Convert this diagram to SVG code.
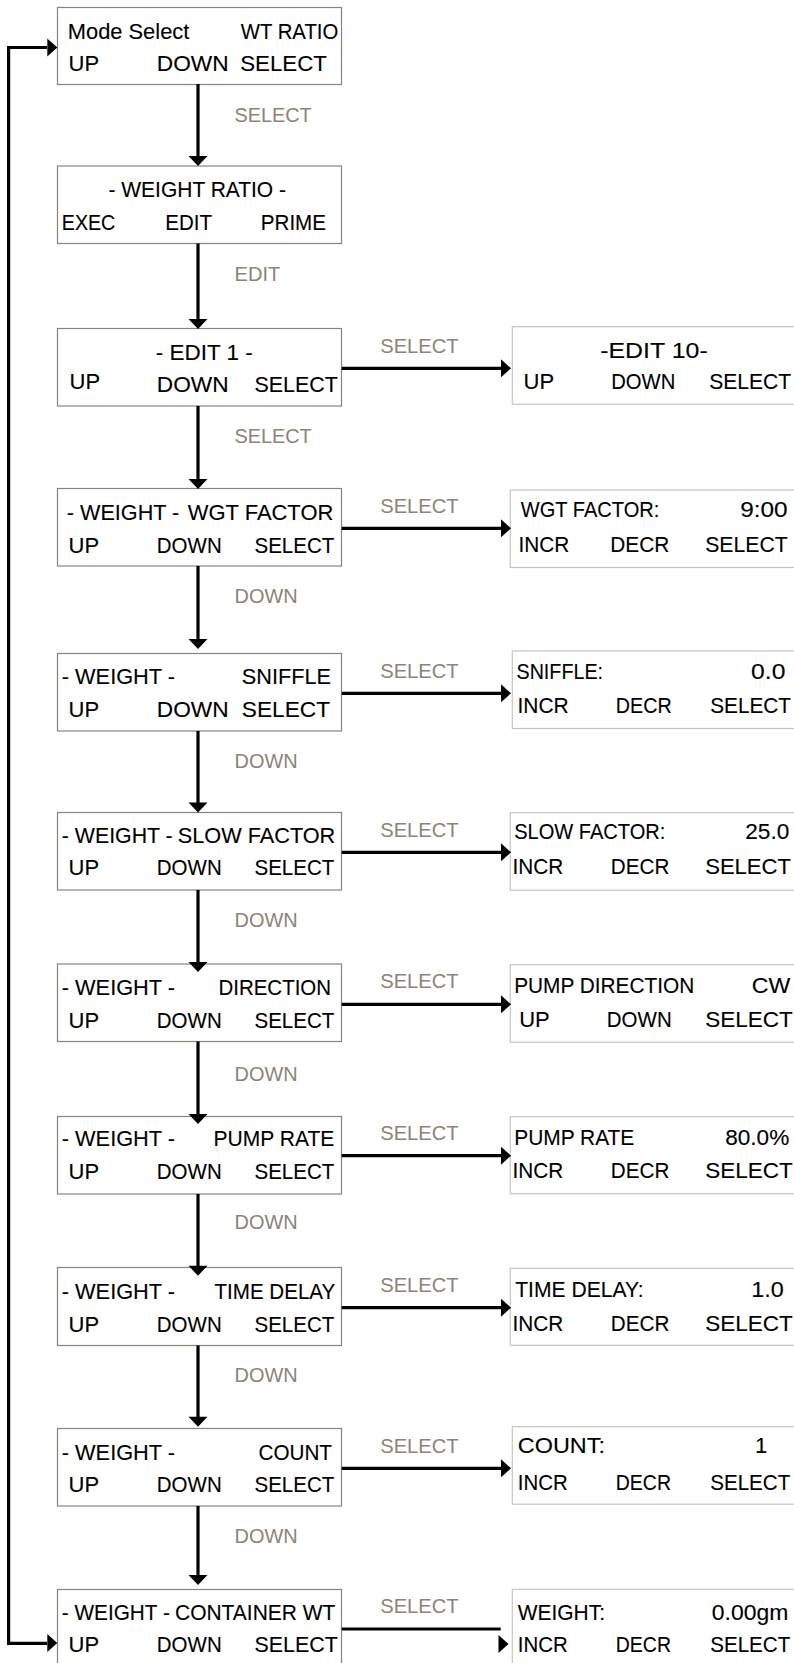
<svg xmlns="http://www.w3.org/2000/svg" xmlns:xlink="http://www.w3.org/1999/xlink" width="794" height="1663" viewBox="0 0 794 1663">
  <style>
    text { font-family: "Liberation Sans", Arial, sans-serif; }
    .t { font-size: 22px; fill: #000; stroke: #000; stroke-width: 0.12; }
    .lbl { font-size: 21px; fill: #8c8478; }
    .box { fill: #fff; stroke: #8b8278; stroke-width: 1.2; }
    .rbox { fill: #fff; stroke: #c8c4bd; stroke-width: 1.2; }
    .wire { fill: none; stroke: #000; stroke-width: 3.2; }
    .head { fill: #000; }
  </style>
  <defs>
    <!-- arrowheads with the tip at the origin -->
    <path id="ahDown" d="M-9.5,-10 L9.5,-10 L0,0 Z"/>
    <path id="ahRight" d="M-10,-9 L-10,9 L0,0 Z"/>
  </defs>

  <rect width="794" height="1663" fill="#fff"/>

  <!-- main menu column -->
  <g id="mode-select">
    <rect class="box" x="57.5" y="7.5" width="284" height="77"/>
    <text class="t" x="67.8" y="38.5" textLength="121.5" lengthAdjust="spacingAndGlyphs">Mode Select</text>
    <text class="t" x="240.8" y="38.5" textLength="97.5" lengthAdjust="spacingAndGlyphs">WT RATIO</text>
    <text class="t" x="68.5" y="71">UP</text>
    <text class="t" x="156.8" y="71" textLength="71.8" lengthAdjust="spacingAndGlyphs">DOWN</text>
    <text class="t" x="240.2" y="71" textLength="86.8" lengthAdjust="spacingAndGlyphs">SELECT</text>
  </g>

  <g id="weight-ratio">
    <rect class="box" x="57.5" y="166" width="284" height="77.5"/>
    <text class="t" x="108.5" y="197" textLength="177.5" lengthAdjust="spacingAndGlyphs">- WEIGHT RATIO -</text>
    <text class="t" x="61.8" y="230" textLength="53.5" lengthAdjust="spacingAndGlyphs">EXEC</text>
    <text class="t" x="165.2" y="230" textLength="46.8" lengthAdjust="spacingAndGlyphs">EDIT</text>
    <text class="t" x="260.8" y="230" textLength="65.2" lengthAdjust="spacingAndGlyphs">PRIME</text>
  </g>

  <g id="edit-1">
    <rect class="box" x="57.5" y="328.5" width="284" height="77.5"/>
    <text class="t" x="155.8" y="360" textLength="96.9" lengthAdjust="spacingAndGlyphs">- EDIT 1 -</text>
    <text class="t" x="69.5" y="388.5">UP</text>
    <text class="t" x="156.8" y="391.5" textLength="71.8" lengthAdjust="spacingAndGlyphs">DOWN</text>
    <text class="t" x="254.5" y="391.5" textLength="83.2" lengthAdjust="spacingAndGlyphs">SELECT</text>
  </g>

  <g id="wgt-factor">
    <rect class="box" x="57.5" y="488.5" width="284" height="77.5"/>
    <text class="t" x="66.8" y="519.5" textLength="112.5" lengthAdjust="spacingAndGlyphs">- WEIGHT -</text>
    <text class="t" x="187.8" y="519.5" textLength="145.5" lengthAdjust="spacingAndGlyphs">WGT FACTOR</text>
    <text class="t" x="68.5" y="552.5">UP</text>
    <text class="t" x="156.8" y="552.5" textLength="64.9" lengthAdjust="spacingAndGlyphs">DOWN</text>
    <text class="t" x="254.5" y="552.5" textLength="79.8" lengthAdjust="spacingAndGlyphs">SELECT</text>
  </g>

  <g id="sniffle">
    <rect class="box" x="57.5" y="653.5" width="284" height="77.5"/>
    <text class="t" x="61.8" y="684" textLength="113.2" lengthAdjust="spacingAndGlyphs">- WEIGHT -</text>
    <text class="t" x="241.8" y="684" textLength="89.2" lengthAdjust="spacingAndGlyphs">SNIFFLE</text>
    <text class="t" x="68.5" y="716.7">UP</text>
    <text class="t" x="156.8" y="716.7" textLength="71.8" lengthAdjust="spacingAndGlyphs">DOWN</text>
    <text class="t" x="241.8" y="716.7" textLength="88.2" lengthAdjust="spacingAndGlyphs">SELECT</text>
  </g>

  <g id="slow-factor">
    <rect class="box" x="57.5" y="812.5" width="284" height="77.5"/>
    <text class="t" x="61.8" y="843.3" textLength="110.9" lengthAdjust="spacingAndGlyphs">- WEIGHT -</text>
    <text class="t" x="177.8" y="843.3" textLength="157.5" lengthAdjust="spacingAndGlyphs">SLOW FACTOR</text>
    <text class="t" x="68.5" y="875">UP</text>
    <text class="t" x="156.8" y="875" textLength="64.9" lengthAdjust="spacingAndGlyphs">DOWN</text>
    <text class="t" x="254.5" y="875" textLength="79.8" lengthAdjust="spacingAndGlyphs">SELECT</text>
  </g>

  <g id="direction">
    <rect class="box" x="57.5" y="964" width="284" height="77.5"/>
    <text class="t" x="61.8" y="995" textLength="113.2" lengthAdjust="spacingAndGlyphs">- WEIGHT -</text>
    <text class="t" x="218.5" y="995" textLength="112.5" lengthAdjust="spacingAndGlyphs">DIRECTION</text>
    <text class="t" x="68.5" y="1027.7">UP</text>
    <text class="t" x="156.8" y="1027.7" textLength="64.9" lengthAdjust="spacingAndGlyphs">DOWN</text>
    <text class="t" x="254.5" y="1027.7" textLength="79.8" lengthAdjust="spacingAndGlyphs">SELECT</text>
  </g>

  <g id="pump-rate">
    <rect class="box" x="57.5" y="1116.5" width="284" height="77.5"/>
    <text class="t" x="61.8" y="1146" textLength="113.2" lengthAdjust="spacingAndGlyphs">- WEIGHT -</text>
    <text class="t" x="213.5" y="1146" textLength="120.8" lengthAdjust="spacingAndGlyphs">PUMP RATE</text>
    <text class="t" x="68.5" y="1179.3">UP</text>
    <text class="t" x="156.8" y="1179.3" textLength="64.9" lengthAdjust="spacingAndGlyphs">DOWN</text>
    <text class="t" x="254.5" y="1179.3" textLength="79.8" lengthAdjust="spacingAndGlyphs">SELECT</text>
  </g>

  <g id="time-delay">
    <rect class="box" x="57.5" y="1267.5" width="284" height="78"/>
    <text class="t" x="61.8" y="1299" textLength="113.2" lengthAdjust="spacingAndGlyphs">- WEIGHT -</text>
    <text class="t" x="214.5" y="1299" textLength="120.8" lengthAdjust="spacingAndGlyphs">TIME DELAY</text>
    <text class="t" x="68.5" y="1331.7">UP</text>
    <text class="t" x="156.8" y="1331.7" textLength="64.9" lengthAdjust="spacingAndGlyphs">DOWN</text>
    <text class="t" x="254.5" y="1331.7" textLength="79.8" lengthAdjust="spacingAndGlyphs">SELECT</text>
  </g>

  <g id="count">
    <rect class="box" x="57.5" y="1428.5" width="284" height="77.5"/>
    <text class="t" x="61.8" y="1460" textLength="113.2" lengthAdjust="spacingAndGlyphs">- WEIGHT -</text>
    <text class="t" x="258.5" y="1460" textLength="73.5" lengthAdjust="spacingAndGlyphs">COUNT</text>
    <text class="t" x="68.5" y="1491.7">UP</text>
    <text class="t" x="156.8" y="1491.7" textLength="64.9" lengthAdjust="spacingAndGlyphs">DOWN</text>
    <text class="t" x="254.5" y="1491.7" textLength="79.8" lengthAdjust="spacingAndGlyphs">SELECT</text>
  </g>

  <g id="container-wt">
    <rect class="box" x="57.5" y="1589.5" width="284" height="78"/>
    <text class="t" x="61.8" y="1620" textLength="108" lengthAdjust="spacingAndGlyphs">- WEIGHT -</text>
    <text class="t" x="175" y="1620" textLength="160.3" lengthAdjust="spacingAndGlyphs">CONTAINER WT</text>
    <text class="t" x="68.5" y="1651.7">UP</text>
    <text class="t" x="156.8" y="1651.7" textLength="64.9" lengthAdjust="spacingAndGlyphs">DOWN</text>
    <text class="t" x="254.5" y="1651.7" textLength="83.2" lengthAdjust="spacingAndGlyphs">SELECT</text>
  </g>

  <!-- setting screens -->
  <g id="edit-10">
    <rect class="rbox" x="512.3" y="326.7" width="290" height="77.5"/>
    <text class="t" x="600.2" y="358.3" textLength="107.5" lengthAdjust="spacingAndGlyphs">-EDIT 10-</text>
    <text class="t" x="523.5" y="389.3">UP</text>
    <text class="t" x="611.2" y="389.3" textLength="64.1" lengthAdjust="spacingAndGlyphs">DOWN</text>
    <text class="t" x="709.2" y="389.3" textLength="81.8" lengthAdjust="spacingAndGlyphs">SELECT</text>
  </g>

  <g id="set-wgt-factor">
    <rect class="rbox" x="510.3" y="490" width="290" height="77.5"/>
    <text class="t" x="520.8" y="516.7" textLength="138.5" lengthAdjust="spacingAndGlyphs">WGT FACTOR:</text>
    <text class="t" x="740.2" y="516.7" textLength="47.5" lengthAdjust="spacingAndGlyphs">9:00</text>
    <text class="t" x="518.5" y="551.7" textLength="50.8" lengthAdjust="spacingAndGlyphs">INCR</text>
    <text class="t" x="610.2" y="551.7" textLength="59.1" lengthAdjust="spacingAndGlyphs">DECR</text>
    <text class="t" x="705.2" y="551.7" textLength="82.5" lengthAdjust="spacingAndGlyphs">SELECT</text>
  </g>

  <g id="set-sniffle">
    <rect class="rbox" x="512.3" y="651" width="290" height="77.5"/>
    <text class="t" x="516.5" y="679" textLength="86.5" lengthAdjust="spacingAndGlyphs">SNIFFLE:</text>
    <text class="t" x="751.1" y="679" textLength="34.3" lengthAdjust="spacingAndGlyphs">0.0</text>
    <text class="t" x="517.5" y="713.3" textLength="51.2" lengthAdjust="spacingAndGlyphs">INCR</text>
    <text class="t" x="615.8" y="713.3" textLength="55.9" lengthAdjust="spacingAndGlyphs">DECR</text>
    <text class="t" x="710.2" y="713.3" textLength="80.8" lengthAdjust="spacingAndGlyphs">SELECT</text>
  </g>

  <g id="set-slow-factor">
    <rect class="rbox" x="510.3" y="812.7" width="290" height="77.5"/>
    <text class="t" x="514.2" y="839.3" textLength="151.1" lengthAdjust="spacingAndGlyphs">SLOW FACTOR:</text>
    <text class="t" x="745.2" y="839.3" textLength="44.1" lengthAdjust="spacingAndGlyphs">25.0</text>
    <text class="t" x="512.5" y="874.3" textLength="50.8" lengthAdjust="spacingAndGlyphs">INCR</text>
    <text class="t" x="610.8" y="874.3" textLength="58.5" lengthAdjust="spacingAndGlyphs">DECR</text>
    <text class="t" x="705.2" y="874.3" textLength="85.8" lengthAdjust="spacingAndGlyphs">SELECT</text>
  </g>

  <g id="set-direction">
    <rect class="rbox" x="510.3" y="964.7" width="290" height="77.5"/>
    <text class="t" x="514.2" y="992.7" textLength="180.1" lengthAdjust="spacingAndGlyphs">PUMP DIRECTION</text>
    <text class="t" x="751.8" y="992.7" textLength="38.5" lengthAdjust="spacingAndGlyphs">CW</text>
    <text class="t" x="519.2" y="1026.7">UP</text>
    <text class="t" x="606.8" y="1026.7" textLength="64.9" lengthAdjust="spacingAndGlyphs">DOWN</text>
    <text class="t" x="705.2" y="1026.7" textLength="87.5" lengthAdjust="spacingAndGlyphs">SELECT</text>
  </g>

  <g id="set-pump-rate">
    <rect class="rbox" x="510.3" y="1116.7" width="290" height="77"/>
    <text class="t" x="514.2" y="1145" textLength="120.1" lengthAdjust="spacingAndGlyphs">PUMP RATE</text>
    <text class="t" x="725.2" y="1145" textLength="64.1" lengthAdjust="spacingAndGlyphs">80.0%</text>
    <text class="t" x="512.5" y="1178.3" textLength="50.8" lengthAdjust="spacingAndGlyphs">INCR</text>
    <text class="t" x="610.8" y="1178.3" textLength="58.5" lengthAdjust="spacingAndGlyphs">DECR</text>
    <text class="t" x="705.2" y="1178.3" textLength="87.5" lengthAdjust="spacingAndGlyphs">SELECT</text>
  </g>

  <g id="set-time-delay">
    <rect class="rbox" x="510.3" y="1268.3" width="290" height="77"/>
    <text class="t" x="515.2" y="1297.3" textLength="128.5" lengthAdjust="spacingAndGlyphs">TIME DELAY:</text>
    <text class="t" x="751.2" y="1297.3" textLength="32.5" lengthAdjust="spacingAndGlyphs">1.0</text>
    <text class="t" x="512.5" y="1330.7" textLength="50.8" lengthAdjust="spacingAndGlyphs">INCR</text>
    <text class="t" x="610.8" y="1330.7" textLength="58.5" lengthAdjust="spacingAndGlyphs">DECR</text>
    <text class="t" x="705.2" y="1330.7" textLength="87.5" lengthAdjust="spacingAndGlyphs">SELECT</text>
  </g>

  <g id="set-count">
    <rect class="rbox" x="512.3" y="1426.7" width="290" height="77.5"/>
    <text class="t" x="517.8" y="1453.3" textLength="87.2" lengthAdjust="spacingAndGlyphs">COUNT:</text>
    <text class="t" x="755" y="1453.3">1</text>
    <text class="t" x="517.8" y="1490" textLength="49.9" lengthAdjust="spacingAndGlyphs">INCR</text>
    <text class="t" x="615.8" y="1490" textLength="55.2" lengthAdjust="spacingAndGlyphs">DECR</text>
    <text class="t" x="710.2" y="1490" textLength="80.1" lengthAdjust="spacingAndGlyphs">SELECT</text>
  </g>

  <g id="set-weight">
    <rect class="rbox" x="512.3" y="1589.3" width="290" height="78"/>
    <text class="t" x="517.8" y="1620" textLength="87.2" lengthAdjust="spacingAndGlyphs">WEIGHT:</text>
    <text class="t" x="711.8" y="1620" textLength="76.5" lengthAdjust="spacingAndGlyphs">0.00gm</text>
    <text class="t" x="517.8" y="1651.7" textLength="49.9" lengthAdjust="spacingAndGlyphs">INCR</text>
    <text class="t" x="615.8" y="1651.7" textLength="55.2" lengthAdjust="spacingAndGlyphs">DECR</text>
    <text class="t" x="710.2" y="1651.7" textLength="80.1" lengthAdjust="spacingAndGlyphs">SELECT</text>
  </g>

  <!-- connectors, drawn over the screens so overlapping arrowheads stay visible -->
  <g id="connectors">
    <!-- return loop from the last menu back to the top -->
    <path class="wire" d="M47,1643.3 H8.6 V47.5 H47"/>
    <use xlink:href="#ahRight" class="head" x="57.3" y="47.5"/>
    <use xlink:href="#ahRight" class="head" x="57.3" y="1643"/>

    <!-- vertical chain -->
    <path class="wire" d="M198,84 V157"/>
    <use xlink:href="#ahDown" class="head" x="198" y="166"/>
    <path class="wire" d="M198,243.5 V320"/>
    <use xlink:href="#ahDown" class="head" x="198" y="329"/>
    <path class="wire" d="M198,406 V480"/>
    <use xlink:href="#ahDown" class="head" x="198" y="489"/>
    <path class="wire" d="M198,566 V640"/>
    <use xlink:href="#ahDown" class="head" x="198" y="649"/>
    <path class="wire" d="M198,731 V803"/>
    <use xlink:href="#ahDown" class="head" x="198" y="812.5"/>
    <path class="wire" d="M198,890 V963"/>
    <use xlink:href="#ahDown" class="head" x="198" y="972"/>
    <path class="wire" d="M198,1041.5 V1115"/>
    <use xlink:href="#ahDown" class="head" x="198" y="1124"/>
    <path class="wire" d="M198,1194 V1266"/>
    <use xlink:href="#ahDown" class="head" x="198" y="1275.7"/>
    <path class="wire" d="M198,1345.5 V1417"/>
    <use xlink:href="#ahDown" class="head" x="198" y="1426.7"/>
    <path class="wire" d="M198,1506 V1576"/>
    <use xlink:href="#ahDown" class="head" x="198" y="1585"/>

    <text class="lbl" x="234.5" y="122" textLength="77.2" lengthAdjust="spacingAndGlyphs">SELECT</text>
    <text class="lbl" x="234.5" y="281" textLength="45.8" lengthAdjust="spacingAndGlyphs">EDIT</text>
    <text class="lbl" x="234.5" y="443.3" textLength="77.2" lengthAdjust="spacingAndGlyphs">SELECT</text>
    <text class="lbl" x="234.5" y="603.3" textLength="63.2" lengthAdjust="spacingAndGlyphs">DOWN</text>
    <text class="lbl" x="234.5" y="767.7" textLength="63.2" lengthAdjust="spacingAndGlyphs">DOWN</text>
    <text class="lbl" x="234.5" y="927.3" textLength="63.2" lengthAdjust="spacingAndGlyphs">DOWN</text>
    <text class="lbl" x="234.5" y="1080.7" textLength="63.2" lengthAdjust="spacingAndGlyphs">DOWN</text>
    <text class="lbl" x="234.5" y="1229.3" textLength="63.2" lengthAdjust="spacingAndGlyphs">DOWN</text>
    <text class="lbl" x="234.5" y="1381.7" textLength="63.2" lengthAdjust="spacingAndGlyphs">DOWN</text>
    <text class="lbl" x="234.5" y="1543.3" textLength="63.2" lengthAdjust="spacingAndGlyphs">DOWN</text>

    <!-- horizontal SELECT branches -->
    <path class="wire" d="M341.7,368.3 H501"/>
    <use xlink:href="#ahRight" class="head" x="511" y="368.3"/>
    <path class="wire" d="M341.7,528.3 H501"/>
    <use xlink:href="#ahRight" class="head" x="511" y="528.3"/>
    <path class="wire" d="M341.7,693.3 H501"/>
    <use xlink:href="#ahRight" class="head" x="511" y="693.3"/>
    <path class="wire" d="M341.7,852.3 H501"/>
    <use xlink:href="#ahRight" class="head" x="511" y="852.3"/>
    <path class="wire" d="M341.7,1004.3 H501"/>
    <use xlink:href="#ahRight" class="head" x="511" y="1004.3"/>
    <path class="wire" d="M341.7,1155.7 H501"/>
    <use xlink:href="#ahRight" class="head" x="511" y="1155.7"/>
    <path class="wire" d="M341.7,1307.7 H501"/>
    <use xlink:href="#ahRight" class="head" x="511" y="1307.7"/>
    <path class="wire" d="M341.7,1468.3 H501"/>
    <use xlink:href="#ahRight" class="head" x="511" y="1468.3"/>
    <path class="wire" d="M341.7,1629 H500.7"/>
    <use xlink:href="#ahRight" class="head" x="508.5" y="1644"/>

    <text class="lbl" x="380.2" y="353" textLength="78.5" lengthAdjust="spacingAndGlyphs">SELECT</text>
    <text class="lbl" x="380.2" y="513" textLength="78.5" lengthAdjust="spacingAndGlyphs">SELECT</text>
    <text class="lbl" x="380.2" y="678" textLength="78.5" lengthAdjust="spacingAndGlyphs">SELECT</text>
    <text class="lbl" x="380.2" y="837" textLength="78.5" lengthAdjust="spacingAndGlyphs">SELECT</text>
    <text class="lbl" x="380.2" y="988" textLength="78.5" lengthAdjust="spacingAndGlyphs">SELECT</text>
    <text class="lbl" x="380.2" y="1139.5" textLength="78.5" lengthAdjust="spacingAndGlyphs">SELECT</text>
    <text class="lbl" x="380.2" y="1291.7" textLength="78.5" lengthAdjust="spacingAndGlyphs">SELECT</text>
    <text class="lbl" x="380.2" y="1452.7" textLength="78.5" lengthAdjust="spacingAndGlyphs">SELECT</text>
    <text class="lbl" x="380.2" y="1613.3" textLength="78.5" lengthAdjust="spacingAndGlyphs">SELECT</text>
  </g>
</svg>
